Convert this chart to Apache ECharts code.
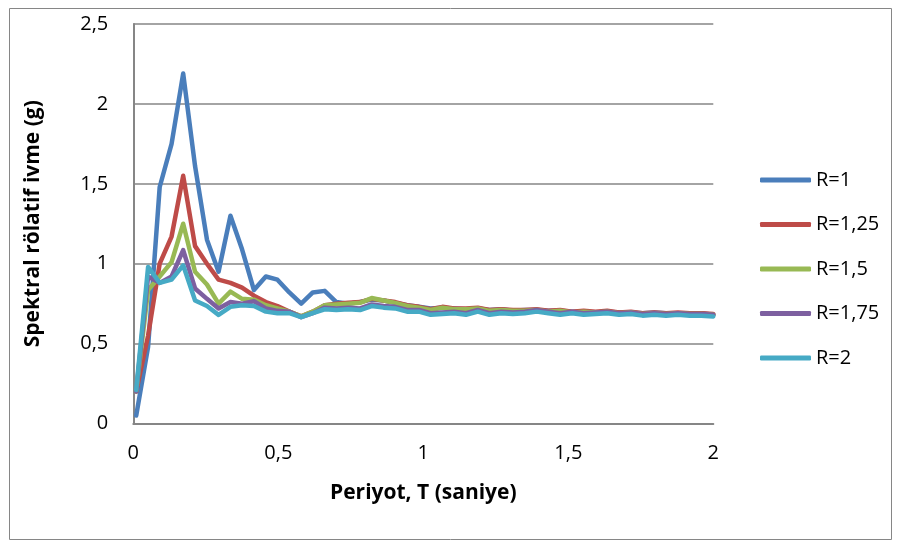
<!DOCTYPE html>
<html>
<head>
<meta charset="utf-8">
<script src="https://cdn.jsdelivr.net/npm/echarts@6/dist/echarts.min.js"></script>
<style>
  html, body { margin: 0; padding: 0; background: #ffffff; }
  #chart { width: 902px; height: 546px; }
</style>
</head>
<body>
<div id="chart"></div>
<script>
// Period values (s)
const periods = [0.010, 0.051, 0.091, 0.132, 0.172, 0.213, 0.254, 0.294, 0.335, 0.375,
  0.416, 0.457, 0.497, 0.538, 0.579, 0.619, 0.660, 0.700, 0.741, 0.782,
  0.822, 0.863, 0.903, 0.944, 0.985, 1.025, 1.066, 1.106, 1.147, 1.188,
  1.228, 1.269, 1.309, 1.350, 1.391, 1.431, 1.472, 1.513, 1.553, 1.594,
  1.634, 1.675, 1.716, 1.756, 1.797, 1.837, 1.878, 1.919, 1.959, 2.000];

// Spectral relative acceleration (g) for each strength reduction factor R
const r100 = [0.05, 0.48, 1.48, 1.75, 2.19, 1.61, 1.15, 0.95, 1.30, 1.09,
  0.835, 0.92, 0.90, 0.82, 0.75, 0.82, 0.83, 0.76, 0.75, 0.76,
  0.775, 0.77, 0.755, 0.74, 0.73, 0.72, 0.725, 0.72, 0.715, 0.72,
  0.71, 0.715, 0.705, 0.71, 0.71, 0.705, 0.705, 0.70, 0.70, 0.695,
  0.70, 0.695, 0.695, 0.69, 0.695, 0.69, 0.69, 0.685, 0.69, 0.68];
const r125 = [0.20, 0.55, 1.00, 1.17, 1.55, 1.11, 1.00, 0.90, 0.88, 0.85,
  0.80, 0.76, 0.735, 0.70, 0.67, 0.70, 0.74, 0.75, 0.755, 0.76,
  0.78, 0.77, 0.76, 0.74, 0.73, 0.715, 0.73, 0.72, 0.72, 0.725,
  0.71, 0.715, 0.71, 0.71, 0.715, 0.705, 0.71, 0.70, 0.705, 0.70,
  0.705, 0.695, 0.70, 0.69, 0.695, 0.69, 0.695, 0.69, 0.69, 0.685];
const r150 = [0.20, 0.835, 0.92, 1.01, 1.25, 0.95, 0.87, 0.75, 0.825, 0.78,
  0.775, 0.74, 0.72, 0.70, 0.67, 0.70, 0.74, 0.745, 0.75, 0.755,
  0.785, 0.77, 0.755, 0.735, 0.725, 0.71, 0.725, 0.715, 0.715, 0.72,
  0.705, 0.71, 0.705, 0.705, 0.71, 0.70, 0.705, 0.695, 0.70, 0.695,
  0.70, 0.69, 0.695, 0.685, 0.69, 0.685, 0.69, 0.685, 0.685, 0.68];
const r175 = [0.20, 0.92, 0.88, 0.92, 1.085, 0.845, 0.78, 0.72, 0.76, 0.75,
  0.765, 0.72, 0.705, 0.70, 0.665, 0.69, 0.725, 0.72, 0.725, 0.72,
  0.745, 0.735, 0.73, 0.71, 0.71, 0.69, 0.695, 0.70, 0.69, 0.71,
  0.69, 0.70, 0.695, 0.70, 0.71, 0.70, 0.69, 0.70, 0.69, 0.695,
  0.70, 0.69, 0.695, 0.685, 0.69, 0.685, 0.69, 0.685, 0.685, 0.68];
const r200 = [0.21, 0.98, 0.88, 0.90, 0.99, 0.77, 0.735, 0.68, 0.73, 0.74,
  0.735, 0.70, 0.69, 0.69, 0.665, 0.69, 0.715, 0.71, 0.715, 0.71,
  0.735, 0.725, 0.72, 0.70, 0.70, 0.68, 0.685, 0.69, 0.68, 0.70,
  0.68, 0.69, 0.685, 0.69, 0.70, 0.69, 0.68, 0.69, 0.68, 0.685,
  0.69, 0.68, 0.685, 0.675, 0.68, 0.675, 0.68, 0.675, 0.675, 0.67];

const seriesNames = ['R=1', 'R=1,25', 'R=1,5', 'R=1,75', 'R=2'];
const seriesValues = [r100, r125, r150, r175, r200];
const seriesColors = ['#4A7EBB', '#BE4B48', '#98B954', '#7D60A0', '#46AAC5'];

const xTitle = 'Periyot, T (saniye)';
const yTitle = 'Spektral rölatif ivme (g)';

const FONT = '"Open Sans", Lato, sans-serif';
const commaDecimal = v => String(v).replace('.', ',');

const chart = echarts.init(document.getElementById('chart'), null, { renderer: 'canvas' });

chart.setOption({
  animation: false,
  backgroundColor: '#ffffff',
  textStyle: { fontFamily: FONT },
  graphic: [{
    type: 'rect',
    shape: { x: 9.5, y: 8.5, width: 882, height: 531 },
    style: { fill: 'none', stroke: '#868686', lineWidth: 1 },
    silent: true
  }],
  grid: { left: 133.3, right: 188.7, top: 24, bottom: 122.5 },
  legend: {
    orient: 'vertical',
    left: 760,
    top: 170,
    padding: 0,
    itemWidth: 51,
    itemHeight: 5,
    itemGap: 24.5,
    icon: 'roundRect',
    textStyle: { fontSize: 20, color: '#000', fontFamily: FONT },
    data: seriesNames
  },
  xAxis: {
    type: 'value',
    min: 0,
    max: 2,
    interval: 0.5,
    name: xTitle,
    nameLocation: 'middle',
    nameGap: 59,
    nameTextStyle: { fontSize: 21, fontWeight: 'bold', color: '#000', fontFamily: FONT },
    axisLine: { show: true, lineStyle: { color: '#868686', width: 2 } },
    axisTick: { show: false },
    splitLine: { show: false },
    axisLabel: { fontSize: 20, color: '#000', margin: 20, formatter: commaDecimal }
  },
  yAxis: {
    type: 'value',
    min: 0,
    max: 2.5,
    interval: 0.5,
    name: yTitle,
    nameLocation: 'middle',
    nameGap: 90,
    nameRotate: 90,
    nameTextStyle: { fontSize: 21, fontWeight: 'bold', color: '#000', fontFamily: FONT },
    axisLine: { show: true, lineStyle: { color: '#868686', width: 2 } },
    axisTick: { show: false },
    splitLine: { show: true, lineStyle: { color: '#868686', width: 1.5 } },
    axisLabel: { fontSize: 20, color: '#000', margin: 25, formatter: commaDecimal }
  },
  series: seriesNames.map((name, i) => ({
    name: name,
    type: 'line',
    symbol: 'none',
    showSymbol: false,
    smooth: false,
    clip: false,
    color: seriesColors[i],
    lineStyle: { width: 4.5, color: seriesColors[i], join: 'round', cap: 'round' },
    data: periods.map((t, k) => [t, seriesValues[i][k]])
  }))
});
</script>
</body>
</html>
